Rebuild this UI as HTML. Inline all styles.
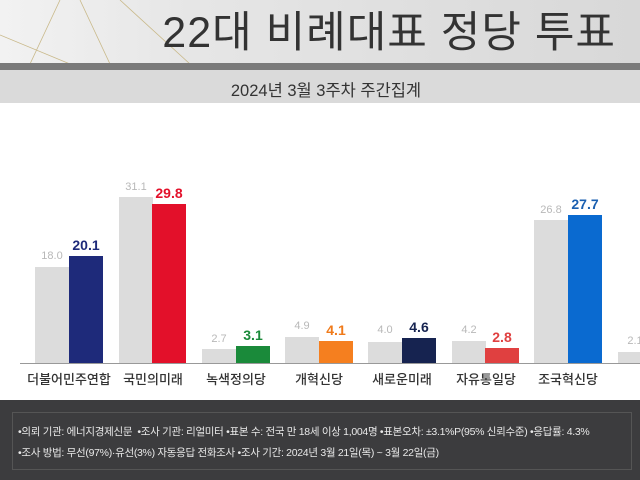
<!DOCTYPE html><html><head><meta charset="utf-8"><style>
body{margin:0;width:640px;height:480px;overflow:hidden;background:#fff;font-family:"Liberation Sans","Noto Sans CJK KR",sans-serif;position:relative}
.a{position:absolute}
.b{position:absolute;bottom:117px;width:34px}
.g{background:#dcdcdc}
.v{position:absolute;width:40px;text-align:center;font-size:11px;color:#b8b8b8}
.c{font-weight:bold;font-size:14px}
.l{position:absolute;top:369px;width:90px;text-align:center;font-size:13px;color:#333;font-weight:500}
</style></head><body>
<div class="a" style="left:0;top:0;width:640px;height:64px;background:linear-gradient(90deg,#f2f2f2 0%,#e6e6e6 30%,#d8d8d8 100%)"></div>
<svg class="a" style="left:0;top:0" width="200" height="64"><path d="M30 64 L60 0 M80 0 L110 64 M0 35 L70 64 M120 0 L190 64" stroke="#c9b98a" stroke-width="0.8" fill="none"/></svg>
<div class="a" style="left:100px;top:6px;width:516px;text-align:right;font-size:43px;color:#333;line-height:54px;letter-spacing:1px;white-space:nowrap">22대 비례대표 정당 투표</div>
<div class="a" style="left:0;top:63px;width:640px;height:7px;background:#7a7a7a"></div>
<div class="a" style="left:0;top:70px;width:640px;height:33px;background:#dadada"></div>
<div class="a" style="left:176px;top:77px;width:300px;text-align:center;font-size:16.5px;color:#333">2024년 3월 3주차 주간집계</div>
<div class="a" style="left:20px;top:363px;width:620px;height:1px;background:#999"></div>

<div class="b g" style="left:35px;height:96px"></div><div class="b" style="left:69px;height:107px;background:#1e2a7a"></div>
<div class="v" style="left:32px;top:250px">18.0</div><div class="v c" style="left:66px;top:237px;color:#1e2a7a">20.1</div>
<div class="l" style="left:24px">더불어민주연합</div>

<div class="b g" style="left:119px;height:166px"></div><div class="b" style="left:152px;height:159px;background:#e3102a"></div>
<div class="v" style="left:116px;top:181px">31.1</div><div class="v c" style="left:149px;top:185px;color:#e3102a">29.8</div>
<div class="l" style="left:108px">국민의미래</div>

<div class="b g" style="left:202px;height:14px"></div><div class="b" style="left:236px;height:17px;background:#1a8a3a"></div>
<div class="v" style="left:199px;top:333px">2.7</div><div class="v c" style="left:233px;top:327px;color:#1a8a3a">3.1</div>
<div class="l" style="left:191px">녹색정의당</div>

<div class="b g" style="left:285px;height:26px"></div><div class="b" style="left:319px;height:22px;background:#f57f1f"></div>
<div class="v" style="left:282px;top:320px">4.9</div><div class="v c" style="left:316px;top:322px;color:#f07a1a">4.1</div>
<div class="l" style="left:274px">개혁신당</div>

<div class="b g" style="left:368px;height:21px"></div><div class="b" style="left:402px;height:25px;background:#162350"></div>
<div class="v" style="left:365px;top:324px">4.0</div><div class="v c" style="left:399px;top:319px;color:#162350">4.6</div>
<div class="l" style="left:357px">새로운미래</div>

<div class="b g" style="left:452px;height:22px"></div><div class="b" style="left:485px;height:15px;background:#e04040"></div>
<div class="v" style="left:449px;top:324px">4.2</div><div class="v c" style="left:482px;top:329px;color:#e04040">2.8</div>
<div class="l" style="left:441px">자유통일당</div>

<div class="b g" style="left:534px;height:143px"></div><div class="b" style="left:568px;height:148px;background:#0a6ad0"></div>
<div class="v" style="left:531px;top:204px">26.8</div><div class="v c" style="left:565px;top:196px;color:#1a5fb0">27.7</div>
<div class="l" style="left:523px">조국혁신당</div>

<div class="b g" style="left:618px;height:11px"></div>
<div class="v" style="left:615px;top:335px">2.1</div>
<div class="l" style="left:607px">기타</div>

<div class="a" style="left:0;top:400px;width:640px;height:80px;background:#3c3c3e"></div>
<div class="a" style="left:12px;top:412px;width:620px;height:58px;border:1px solid #555;box-sizing:border-box"></div>
<div class="a" style="left:18px;top:424px;font-size:10.5px;letter-spacing:-0.3px;color:#e8e8e8;white-space:nowrap">•의뢰 기관: 에너지경제신문 &nbsp;•조사 기관: 리얼미터 •표본 수: 전국 만 18세 이상 1,004명 •표본오차: ±3.1%P(95% 신뢰수준) •응답률: 4.3%</div>
<div class="a" style="left:18px;top:445px;font-size:10.5px;letter-spacing:-0.3px;color:#e8e8e8;white-space:nowrap">•조사 방법: 무선(97%)·유선(3%) 자동응답 전화조사 •조사 기간: 2024년 3월 21일(목) ~ 3월 22일(금)</div>
</body></html>
